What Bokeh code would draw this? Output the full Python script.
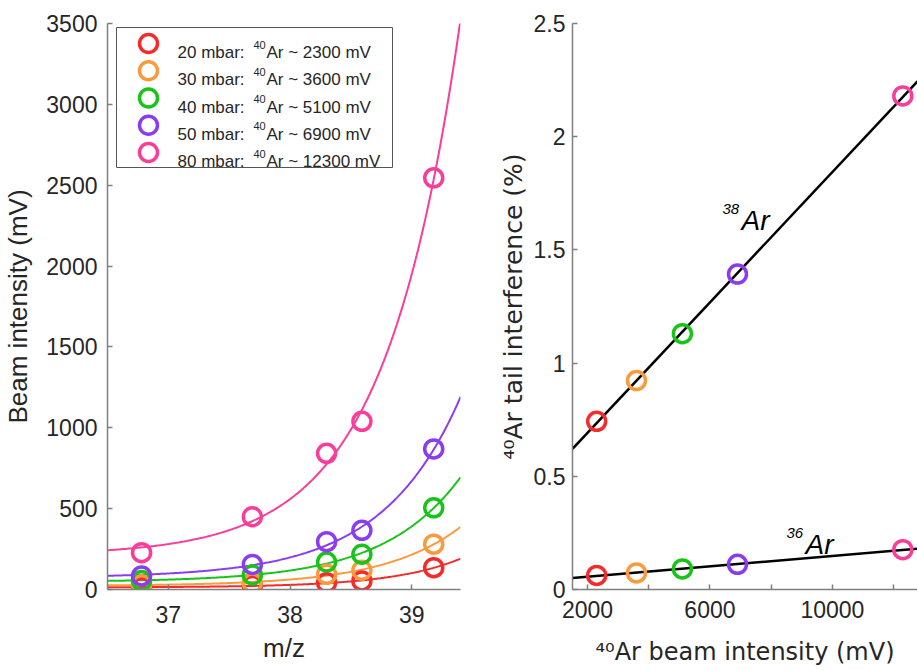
import numpy as np
from bokeh.plotting import figure
from bokeh.models import Range1d, FixedTicker, Label, BoxAnnotation
from bokeh.layouts import row
from bokeh.embed import file_html
from bokeh.resources import INLINE

# ---------------- data ----------------
mz = [36.78, 37.69, 38.30, 38.59, 39.18]
pressures = ["20 mbar:", "30 mbar:", "40 mbar:", "50 mbar:", "80 mbar:"]
beam_text = ["Ar ~ 2300 mV", "Ar ~ 3600 mV", "Ar ~ 5100 mV", "Ar ~ 6900 mV", "Ar ~ 12300 mV"]
colors = ["#f52a2a", "#f99a3c", "#18c418", "#8a3cf2", "#fa3c9a"]
int_20 = [12, 25, 42, 53, 135]
int_30 = [30, 40, 94, 119, 280]
int_40 = [55, 90, 170, 218, 505]
int_50 = [84, 155, 296, 366, 869]
int_80 = [228, 450, 842, 1040, 2546]
intensities = [int_20, int_30, int_40, int_50, int_80]

beam_40 = [2300, 3600, 5100, 6900, 12300]
tail_38 = [0.743, 0.923, 1.13, 1.393, 2.18]
tail_36 = [0.062, 0.073, 0.091, 0.111, 0.176]

left_yticks = [0, 500, 1000, 1500, 2000, 2500, 3000, 3500]
left_xticks = [37, 38, 39]
right_yticks = [0, 0.5, 1, 1.5, 2, 2.5]
right_xticks = [2000, 6000, 10000]
right_xminor = [4000, 8000, 12000]

FONT = "Liberation Sans"
SUPFONT = "DejaVu Sans"
TXT = "#262626"
AX = "#7f7f7f"

LX = (36.5, 39.4)
LY = (0, 3500)
RX = (1510, 12780)
RY = (0, 2.5)

# frame geometry (page pixels)
W1, H = 478, 670
F1L, F1T, F1W, F1H = 107, 23, 353, 566
W2 = 439
F2L, F2T, F2W, F2H = W1 + 94, 21, 345, 569


def px1(px, py):
    return (LX[0] + (px - F1L) / F1W * (LX[1] - LX[0]),
            LY[1] - (py - F1T) / F1H * (LY[1] - LY[0]))


def px2(px, py):
    return (RX[0] + (px - F2L) / F2W * (RX[1] - RX[0]),
            RY[1] - (py - F2T) / F2H * (RY[1] - RY[0]))


def exp_fit(x, y, grid):
    x = np.asarray(x, float)
    y = np.asarray(y, float)
    best = None
    for k in np.arange(0.3, 5.0, 0.01):
        A = np.column_stack([np.ones_like(x), np.exp(k * (x - 39.0))])
        coef = np.linalg.lstsq(A, y, rcond=None)[0]
        sse = float(np.sum((A @ coef - y) ** 2))
        if best is None or sse < best[0]:
            best = (sse, k, coef)
    _, k, (a, b) = best
    return a + b * np.exp(k * (grid - 39.0))


def style(p):
    p.outline_line_color = None
    p.xgrid.grid_line_color = None
    p.ygrid.grid_line_color = None
    p.background_fill_color = "white"
    p.border_fill_color = "white"
    for ax in (p.xaxis[0], p.yaxis[0]):
        ax.axis_line_color = AX
        ax.axis_line_width = 1.5
        ax.major_tick_line_color = AX
        ax.major_tick_line_width = 1.5
        ax.major_tick_in = 5
        ax.major_tick_out = 0
        ax.minor_tick_line_color = AX
        ax.minor_tick_line_width = 1.5
        ax.minor_tick_in = 5
        ax.minor_tick_out = 0
        ax.major_label_text_font = FONT
        ax.major_label_text_font_size = "23px"
        ax.major_label_text_color = TXT
        ax.axis_label_text_font = FONT
        ax.axis_label_text_font_size = "26px"
        ax.axis_label_text_font_style = "normal"
        ax.axis_label_text_color = TXT


def text(p, xy, s, size, style_="normal", color=TXT):
    p.add_layout(Label(x=xy[0], y=xy[1], text=s, text_font=FONT, text_font_size=size,
                       text_font_style=style_, text_color=color,
                       text_align="left", text_baseline="alphabetic"))


# ---------------- left panel ----------------
p1 = figure(width=W1, height=H, x_range=Range1d(*LX), y_range=Range1d(*LY),
            output_backend="svg", toolbar_location=None,
            min_border_left=F1L, min_border_right=W1 - F1L - F1W,
            min_border_top=F1T, min_border_bottom=H - F1T - F1H)
style(p1)
p1.xaxis.ticker = FixedTicker(ticks=left_xticks)
p1.yaxis.ticker = FixedTicker(ticks=left_yticks)
p1.xaxis.axis_label = "m/z"
p1.yaxis.axis_label = "Beam intensity (mV)"
p1.xaxis.major_label_standoff = 16
p1.xaxis.axis_label_standoff = 7
p1.yaxis.major_label_standoff = 10
p1.yaxis.axis_label_standoff = 10

grid = np.linspace(LX[0], LX[1], 300)
for vals, c in zip(intensities, colors):
    p1.line(grid, exp_fit(mz, vals, grid), line_color=c, line_width=2)

for vals, c in zip(intensities, colors):
    p1.scatter(mz, vals, marker="circle", size=18, fill_color=None,
               line_color=c, line_width=3.5)

# legend (drawn in the frame's top-left corner)
bl, bt = px1(116, 27)
br, bb = px1(392, 167)
p1.add_layout(BoxAnnotation(left=bl, right=br, top=bt, bottom=bb, fill_alpha=0,
                            line_color="#555555", line_width=1, line_alpha=1))
row_y = [43 + 27.25 * i for i in range(5)]
mk = [px1(148, ry) for ry in row_y]
p1.scatter([m[0] for m in mk], [m[1] for m in mk], marker="circle", size=18,
           fill_color=None, line_color=colors, line_width=3.5)
for ry, pr, bt_ in zip(row_y, pressures, beam_text):
    text(p1, px1(177, ry + 9), pr, "17px")
    text(p1, px1(253, ry + 1), "40", "11px")
    text(p1, px1(266, ry + 9), bt_, "17px")

# ---------------- right panel ----------------
p2 = figure(width=W2, height=H, x_range=Range1d(*RX), y_range=Range1d(*RY),
            output_backend="svg", toolbar_location=None,
            min_border_left=F2L - W1, min_border_right=W2 - (F2L - W1) - F2W,
            min_border_top=F2T, min_border_bottom=H - F2T - F2H)
style(p2)
p2.xaxis.ticker = FixedTicker(ticks=right_xticks, minor_ticks=right_xminor)
p2.yaxis.ticker = FixedTicker(ticks=right_yticks)
p2.yaxis.major_label_overrides = {0: "0", 0.5: "0.5", 1: "1", 1.5: "1.5", 2: "2", 2.5: "2.5"}
p2.xaxis.major_label_standoff = 11
p2.yaxis.major_label_standoff = 7
p2.xaxis.axis_label = "\u2074\u2070Ar beam intensity (mV)"
p2.yaxis.axis_label = "\u2074\u2070Ar tail interference (%)"
p2.xaxis.axis_label_text_font = SUPFONT
p2.yaxis.axis_label_text_font = SUPFONT
p2.xaxis.axis_label_text_font_size = "24px"
p2.yaxis.axis_label_text_font_size = "25px"
p2.xaxis.axis_label_standoff = 17
p2.yaxis.axis_label_standoff = 3

xl = np.array(RX, dtype=float)
for t in (tail_38, tail_36):
    m, b = np.polyfit(beam_40, t, 1)
    p2.line(xl, m * xl + b, line_color="black", line_width=2.5)

for t in (tail_38, tail_36):
    p2.scatter(beam_40, t, marker="circle", size=18, fill_color=None,
               line_color=colors, line_width=3.5)

# isotope labels
for (lx, ly, num) in ((722, 219, "38"), (786, 545, "36")):
    text(p2, px2(lx, ly - 12), num, "15px", style_="italic", color="black")
    text(p2, px2(lx + 19, ly), "Ar", "28px", style_="italic", color="black")

layout = row(p1, p2)
open("out.html", "w").write(file_html(layout, INLINE))
